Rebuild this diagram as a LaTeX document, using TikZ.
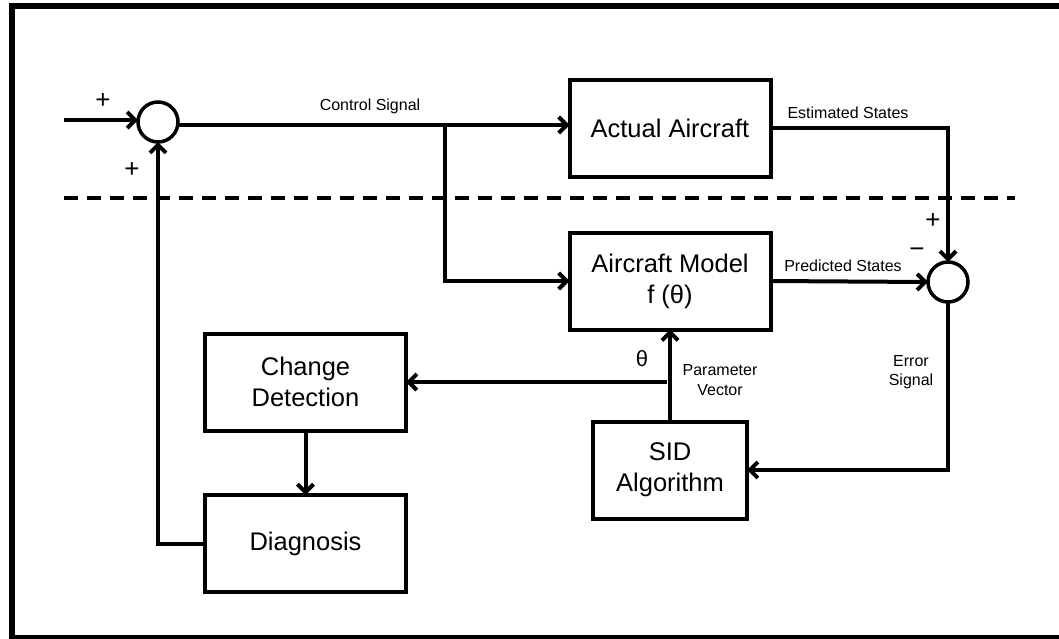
\documentclass[tikz,border=0pt]{standalone}
\usepackage{fontspec}
\setmainfont{Liberation Sans}
\usetikzlibrary{positioning,arrows.meta}

\begin{document}
\begin{tikzpicture}[x=1pt,y=-1pt]
  \tikzset{BlockStyle/.style = {
    shape         = rectangle,
    draw          = black,
    fill          = white,
    line width    = 4pt,
    text          = black,
    inner sep     = 2pt,
    outer sep     = 0pt,
    minimum width = 201pt,
    minimum height= 97pt,
    align         = center,
    font          = \fontsize{25.5}{31}\selectfont
    }
  }
  \tikzset{SumStyle/.style = {
    shape         = circle,
    draw          = black,
    fill          = white,
    line width    = 3.5pt,
    inner sep     = 0pt,
    outer sep     = 0pt,
    minimum size  = 40pt
    }
  }
  \tikzset{EdgeStyle/.style = {
    draw          = black,
    line width    = 4pt
    }
  }
  \tikzset{ArrowStyle/.style = {
    EdgeStyle,
    -{Straight Barb[length=8pt,width=16pt]}
    }
  }
  \tikzset{LabelStyle/.style = {
    text          = black,
    inner sep     = 0pt,
    align         = center,
    font          = \fontsize{16}{19.5}\selectfont
    }
  }
  \tikzset{SignStyle/.style = {
    text          = black,
    inner sep     = 0pt,
    font          = \fontsize{26}{30}\selectfont
    }
  }

  \useasboundingbox (0,0) rectangle (1059,638);
  \draw[line width=6pt] (11.5,5.5) rectangle (1066,637.5);
  \draw[EdgeStyle, dash pattern=on 14pt off 9pt] (64,198) -- (1015,198);

	\node[SumStyle](S1) at (158,122) {};
	\node[SumStyle](S2) at (948,282) {};
	\node[BlockStyle](AA) at (670,128) {Actual Aircraft};
	\node[BlockStyle](AM) at (670,281) {Aircraft Model\\f (θ)};
	\node[BlockStyle](CD) at (305.5,382) {Change\\Detection};
	\node[BlockStyle](DG) at (305.5,543.5) {Diagnosis};
	\node[BlockStyle, minimum width=154pt](SID) at (670,470) {SID\\Algorithm};

	\coordinate (in) at (64,120);
	\coordinate (ctl) at (445,125);
	\coordinate (th) at (667,382);

	\draw[ArrowStyle](in) -- (S1.west |- in);
	\draw[EdgeStyle](S1.east |- ctl) -- (ctl);
	\draw[ArrowStyle](ctl) -- (AA.west |- ctl);
	\draw[ArrowStyle](ctl) |- (AM.west);
	\draw[ArrowStyle](AA.east) -| (S2.north);
	\draw[ArrowStyle](AM.east) -- (S2.west);
	\draw[ArrowStyle](S2.south) |- (SID.east);
	\draw[ArrowStyle](SID.north) -- (AM.south);
	\draw[ArrowStyle](th) -- (CD.east);
	\draw[ArrowStyle](CD.south) -- (DG.north);
	\draw[ArrowStyle](DG.west) -| (S1.south);

	\node[SignStyle](p1) at (103,101) {+};
	\node[SignStyle](p2) at (132,170) {+};
	\node[SignStyle](p3) at (933,221) {+};
	\node[SignStyle](m1) at (917,253) {−};
	\node[SignStyle, font=\fontsize{22}{26}\selectfont](th0) at (642,359) {θ};
	\node[LabelStyle](lCtl) at (370,106) {Control Signal};
	\node[LabelStyle](lEst) at (848,113) {Estimated States};
	\node[LabelStyle](lPre) at (843,266) {Predicted States};
	\node[LabelStyle](lErr) at (911,372) {Error\\Signal};
	\node[LabelStyle](lPar) at (720,380) {Parameter\\Vector};

\end{tikzpicture}
\end{document}
